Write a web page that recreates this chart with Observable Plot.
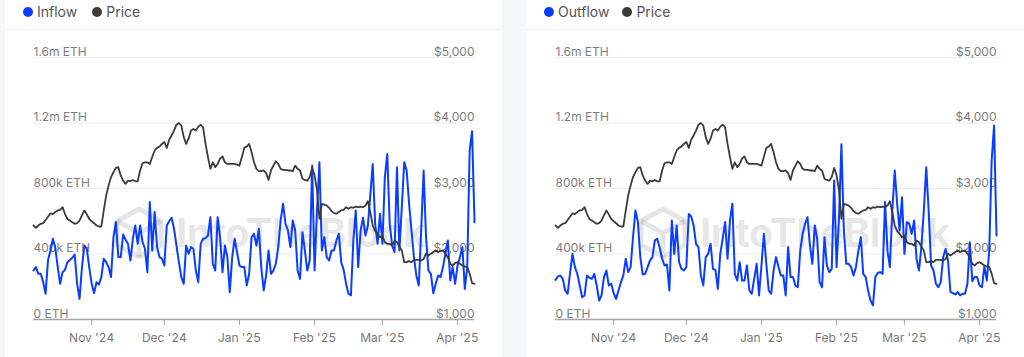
<!DOCTYPE html>
<html>
<head>
<meta charset="utf-8">
<script src="https://cdn.jsdelivr.net/npm/d3@7"></script>
<script src="https://cdn.jsdelivr.net/npm/@observablehq/plot@0.6"></script>
<style>
  html, body { margin: 0; padding: 0; }
  body { width: 1024px; height: 357px; background: #f6f7f9; position: relative; overflow: hidden; font-family: Inter, "Liberation Sans", sans-serif; }
  .card { position: absolute; top: -8px; height: 380px; background: #fff; border-radius: 6px; }
  .sep { position: absolute; left: 0; right: 0; top: 37px; height: 1px; background: #eeeeee; }
  .legend { position: absolute; top: 3px; display: flex; align-items: center; font-size: 14px; color: #555; }
  .legend .item { display: flex; align-items: center; margin-right: 15px; }
  .legend .dot { width: 10px; height: 10px; border-radius: 50%; margin-right: 4px; }
  .wm { position: absolute; top: 205px; display: flex; align-items: center; color: rgba(0,0,0,0.1); font-weight: 700; font-size: 40px; letter-spacing: -0.5px; }
  .wm svg { margin-right: 10px; }
  .chart { position: absolute; top: 30px; }
  .chart svg { background: transparent; }
</style>
</head>
<body>
<div class="card" style="left:5px;width:497px;"><div class="sep"></div></div>
<div class="card" style="left:526px;width:510px;"><div class="sep"></div></div>

<div class="wm" style="left:112px;"><svg width="54" height="54" viewBox="0 0 54 54"><g fill="none" stroke="rgba(0,0,0,0.1)" stroke-width="5"><path d="M27 4 L49 16 L49 40 L27 52 L5 40 L5 16 Z"/><path d="M5 16 L27 28 L49 16 M27 28 L27 52"/></g></svg><span>IntoTheBlock</span></div>
<div class="wm" style="left:636px;"><svg width="54" height="54" viewBox="0 0 54 54"><g fill="none" stroke="rgba(0,0,0,0.1)" stroke-width="5"><path d="M27 4 L49 16 L49 40 L27 52 L5 40 L5 16 Z"/><path d="M5 16 L27 28 L49 16 M27 28 L27 52"/></g></svg><span>IntoTheBlock</span></div>

<div class="legend" style="left:23px;"><div class="item"><div class="dot" style="background:#0a3dff"></div>Inflow</div><div class="item"><div class="dot" style="background:#3b3b3b"></div>Price</div></div>
<div class="legend" style="left:544px;"><div class="item" style="margin-right:13px"><div class="dot" style="background:#0a3dff"></div>Outflow</div><div class="item"><div class="dot" style="background:#3b3b3b"></div>Price</div></div>

<div id="left" class="chart" style="left:0px;"></div>
<div id="right" class="chart" style="left:522px;"></div>

<script>
// ---- Data (daily, 2024-10-08 .. 2025-04-08) ----
const startDate = "2024-10-08";

const inflow = [
299,320,279,279,228,157,364,421,493,438,
320,218,289,303,350,364,377,397,218,126,
320,452,432,320,218,161,228,214,259,371,
350,320,259,503,595,381,381,519,487,462,
360,493,574,462,574,472,432,289,717,421,
656,442,381,371,330,574,600,621,554,452,
350,259,218,452,401,442,432,299,228,462,
493,497,513,625,340,299,625,503,289,452,
381,167,381,493,411,330,320,320,208,279,
503,523,
452,554,320,177,269,421,279,299,340,442,
605,707,584,544,442,605,544,299,248,533,
421,299,360,940,299,666,961,421,503,381,
360,421,421,483,523,350,303,218,157,147,
483,666,320,544,621,513,574,760,950,584,
462,646,462,870,1010,584,452,411,930,421,
686,961,910,707,544,381,269,208,544,910,
503,299,279,161,218,269,259,320,401,483,
238,320,218,330,381,442,187,320,1032,1150,
594
];

const outflow = [
242,263,269,248,177,157,283,400,320,279,
208,136,147,269,254,248,279,208,116,147,
259,299,208,218,161,126,177,228,269,371,
289,320,503,666,595,381,275,279,320,360,
381,483,493,438,371,330,336,177,605,401,
574,350,309,299,320,645,629,574,462,442,
269,208,381,401,462,309,303,187,401,493,
595,371,605,707,279,238,350,238,238,330,
177,157,248,340,147,330,523,340,177,157,
299,381,
324,269,269,147,442,259,259,208,197,421,
523,584,625,452,340,574,493,228,197,503,
330,289,309,849,320,625,1070,544,340,340,
320,269,320,421,503,279,259,177,116,86,
259,285,289,279,717,421,320,666,910,707,
544,747,401,595,584,523,605,371,299,442,
666,930,666,330,299,218,197,228,381,432,
360,167,161,153,167,147,157,157,218,472,
234,259,259,208,197,324,238,421,971,1185,
513
];

const price = [
2435,2400,2435,2460,2470,2520,2570,2620,2610,2640,
2665,2675,2715,2610,2535,2510,2485,2460,2470,2510,
2590,2665,2605,2535,2500,2470,2435,2420,2420,2665,
2895,3045,3175,3250,3315,3325,3200,3120,3070,3120,
3110,3130,3110,3110,3275,3385,3400,3400,3375,3480,
3580,3620,3640,3680,3710,3620,3745,3810,3885,3975,
4000,3960,3785,3680,3760,3885,3910,3885,3945,3975,
3935,3680,3480,3300,3400,3325,3375,3455,3490,3400,
3375,3375,3375,3375,3365,3350,3480,3620,3640,3680,
3555,3400,
3300,3265,3265,3275,3235,3130,3275,3350,3415,3375,
3300,3285,3285,3275,3275,3265,3350,3300,3275,3150,
3130,3120,3175,3315,3200,2970,2535,2765,2755,2740,
2705,2655,2625,2615,2640,2665,2675,2715,2690,2715,
2705,2725,2715,2725,2715,2740,2805,2640,2435,2350,
2310,2255,2280,2180,2155,2155,2130,2205,2180,2115,
2055,1875,1875,1890,1875,1910,1910,1910,1900,1925,
2005,1975,2005,2030,2055,2030,2045,2055,2005,1950,
1850,1825,1860,1875,1850,1825,1810,1800,1700,1555,
1545
];

const ethTicks = [0, 400000, 800000, 1200000, 1600000];
const ethLabels = ["0 ETH", "400k ETH", "800k ETH", "1.2m ETH", "1.6m ETH"];
const priceTickValues = [1000, 2000, 3000, 4000, 5000];
const priceLabels = ["$1,000", "$2,000", "$3,000", "$4,000", "$5,000"];
const monthTicks = ["2024-11-01", "2024-12-01", "2025-01-01", "2025-02-01", "2025-03-01", "2025-04-01"];
const monthLabels = ["Nov '24", "Dec '24", "Jan '25", "Feb '25", "Mar '25", "Apr '25"];

// price axis mapped onto the ETH axis: $1,000 -> 0 ETH, $5,000 -> 1.6m ETH
const ethPerDollar = (ethTicks[4] - ethTicks[0]) / (priceTickValues[4] - priceTickValues[0]);
const toEth = p => (p - priceTickValues[0]) * ethPerDollar;

const start = new Date(startDate + "T00:00:00Z");
const dates = price.map((_, i) => d3.utcDay.offset(start, i));
const mTicks = monthTicks.map(s => new Date(s + "T00:00:00Z"));

function panel(flow) {
  const data = dates.map((d, i) => ({date: d, v: flow[i] * 1000, p: toEth(price[i])}));
  const rightTicks = priceTickValues.map((p, i) => ({y: toEth(p), label: priceLabels[i]}));
  const leftTicks = ethTicks.map((v, i) => ({y: v, label: ethLabels[i]}));
  return Plot.plot({
    width: 502,
    height: 327,
    marginLeft: 33,
    marginRight: 28,
    marginTop: 27,
    marginBottom: 38,
    style: {fontFamily: "Inter, 'Liberation Sans', sans-serif", fontSize: "12px", background: "transparent"},
    x: {type: "utc", domain: [dates[0], dates[dates.length - 1]]},
    y: {domain: [ethTicks[0], ethTicks[4]], axis: null},
    marks: [
      Plot.ruleY(ethTicks.slice(1), {stroke: "#ececec", strokeWidth: 1}),
      Plot.text(leftTicks, {y: "y", text: "label", frameAnchor: "left", textAnchor: "start", lineAnchor: "bottom", dy: -2, fill: "#7d7d7d", fontSize: 12}),
      Plot.text(rightTicks, {y: "y", text: "label", frameAnchor: "right", textAnchor: "end", lineAnchor: "bottom", dy: -2, fill: "#7d7d7d", fontSize: 12}),
      Plot.line(data, {x: "date", y: "v", stroke: "#0a3dff", strokeWidth: 2}),
      Plot.line(data, {x: "date", y: "p", stroke: "#3b3b3b", strokeWidth: 1.8}),
      Plot.ruleY([0], {stroke: "#a5a5a5", strokeWidth: 1.5}),
      Plot.axisX({ticks: mTicks, tickFormat: d => monthLabels[mTicks.findIndex(m => +m === +d)], tickSize: 6, tickPadding: 8, stroke: "#a5a5a5", fill: "#777", fontSize: 12})
    ]
  });
}

document.getElementById("left").appendChild(panel(inflow));
document.getElementById("right").appendChild(panel(outflow));
</script>
</body>
</html>
